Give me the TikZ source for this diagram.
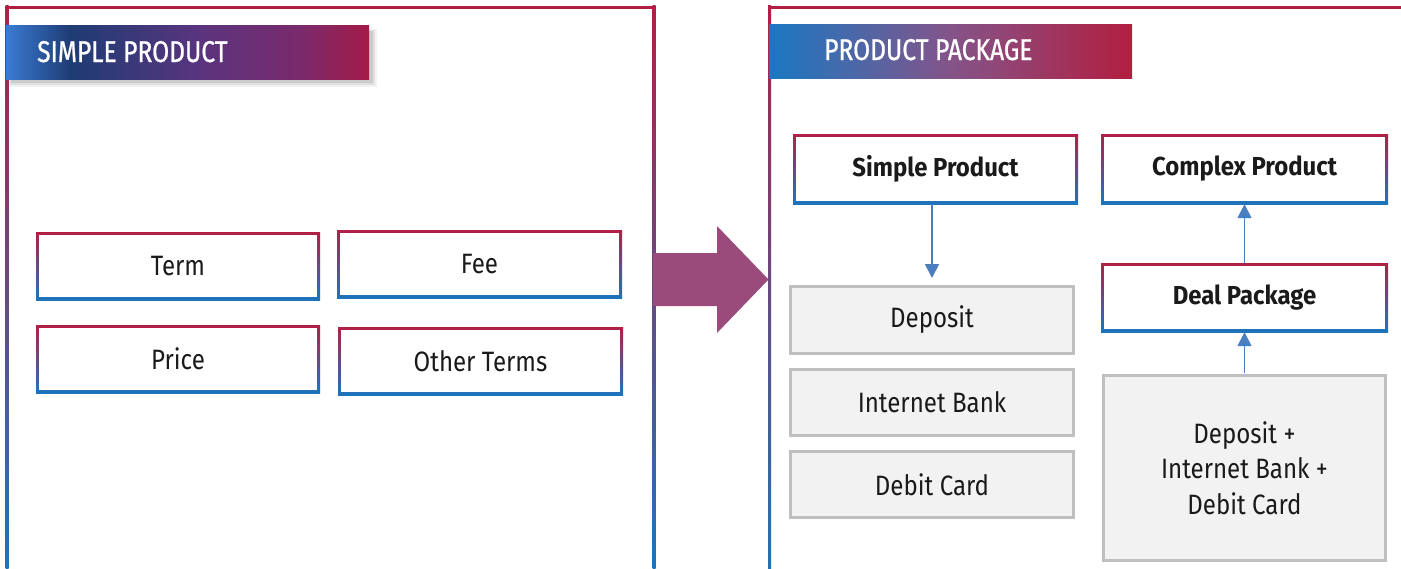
\documentclass[tikz,border=0pt]{standalone}
\usepackage{fontspec}
\setmainfont{Fira Sans}
\newfontfamily\condf[FakeStretch=0.86]{Fira Sans}
\newfontfamily\boldf[FakeStretch=0.92]{Fira Sans}
\newfontfamily\hdrf[FakeStretch=0.82,FakeBold=0.8]{Fira Sans}
\usetikzlibrary{arrows.meta,calc}
\definecolor{gr}{HTML}{B21F45}
\definecolor{gb}{HTML}{1C75BC}
\definecolor{txt}{HTML}{1A1A1A}
\definecolor{grayf}{HTML}{F2F2F2}
\definecolor{grayd}{HTML}{BFBFBF}
\definecolor{bigarrow}{HTML}{9A4A7B}
\definecolor{conncol}{HTML}{4A7EBF}
\definecolor{hA}{HTML}{3A7BD3}
\definecolor{hB}{HTML}{1E3C74}
\definecolor{hC}{HTML}{5A347E}
\definecolor{hD}{HTML}{7A2A6C}
\definecolor{hE}{HTML}{A41B48}
\definecolor{pA}{HTML}{1A78C2}
\definecolor{pB}{HTML}{845489}
\definecolor{pC}{HTML}{B21E40}
\tikzset{
  gbox/.style={inner sep=0pt, text=txt, font=\condf\fontsize{28}{34}\selectfont,
    path picture={
      \shade[top color=gr, bottom color=gb] (path picture bounding box.south west) rectangle (path picture bounding box.north east);
      \fill[white] ([shift={(3pt,-3pt)}]path picture bounding box.north west) rectangle ([shift={(-3pt,3pt)}]path picture bounding box.south east);
    }},
  boldbox/.style={gbox, font=\boldf\bfseries\fontsize{26}{32}\selectfont},
  graybox/.style={inner sep=0pt, fill=grayf, draw=grayd, line width=3pt, text=txt,
    font=\condf\fontsize{28}{35.5}\selectfont, align=center},
  conn/.style={draw=conncol, line width=1.6pt, -{Triangle[length=14pt,width=14pt]}},
  hdrtext/.style={inner sep=0pt, anchor=base west, text=white, font=\hdrf\fontsize{30}{36}\selectfont},
  framered/.style={fill=gr},
  frameside/.style={top color=gr, bottom color=gb},
}
\begin{document}
\begin{tikzpicture}[x=1pt,y=-1pt]
\useasboundingbox (0,0) rectangle (1401,568);
\fill[white] (0,0) rectangle (1401,568);

% frames
\fill[framered] (5.5,5.5) rectangle (655.5,8.5);
\shade[frameside] (5.5,5.5) rectangle (8.5,575);
\shade[frameside] (652.5,5.5) rectangle (655.5,575);
\fill[framered] (768,5.5) rectangle (1405,8.5);
\shade[frameside] (768,5.5) rectangle (771,575);

% header 1 with shadow
\fill[black,opacity=0.05] (9,29) rectangle (377,87);
\fill[black,opacity=0.07] (10,30) rectangle (375,85);
\fill[black,opacity=0.09] (11,31) rectangle (373,83);
\shade[left color=hA, right color=hB] (6,25) rectangle (70.5,79);
\shade[left color=hB, right color=hC] (70,25) rectangle (200.5,79);
\shade[left color=hC, right color=hD] (200,25) rectangle (300.5,79);
\shade[left color=hD, right color=hE] (300,25) rectangle (369,79);
\node[hdrtext] (h1) at (37,62) {SIMPLE PRODUCT};

% header 2
\shade[left color=pA, right color=pB] (769,24) rectangle (950.5,78);
\shade[left color=pB, right color=pC] (950,24) rectangle (1132,78);
\node[hdrtext] (h2) at (824,60) {PRODUCT PACKAGE};

% big arrow
\fill[bigarrow] (653,253) -- (717,253) -- (717,226) -- (768.5,279.5) -- (717,333) -- (717,306) -- (653,306) -- cycle;

% left boxes
\node[gbox, minimum width=284pt, minimum height=68pt] (term) at (178,266) {Term};
\node[gbox, minimum width=285pt, minimum height=68pt] (fee) at (479.5,264) {Fee};
\node[gbox, minimum width=284pt, minimum height=68pt] (price) at (178,359) {Price};
\node[gbox, minimum width=285pt, minimum height=68pt] (other) at (480.5,361) {Other Terms};

% right side
\node[boldbox, minimum width=285pt, minimum height=70pt] (sp) at (935.5,169) {Simple Product};
\node[boldbox, minimum width=287pt, minimum height=70pt] (cp) at (1244.5,169) {Complex Product};
\node[boldbox, minimum width=287pt, minimum height=69pt] (deal) at (1244.5,297.5) {Deal Package};

\node[graybox, minimum width=283pt, minimum height=67pt] (dep) at (932,320) {Deposit};
\node[graybox, minimum width=283pt, minimum height=66pt] (ib) at (932,402.5) {Internet Bank};
\node[graybox, minimum width=283pt, minimum height=66pt] (dc) at (932,484.5) {Debit Card};
\node[graybox, minimum width=282pt, minimum height=185pt] (combo) at (1244.5,468) {Deposit +\\Internet Bank +\\Debit Card};

% connectors
\draw[conn, shorten >=7pt] (dep.north |- sp.south) -- (dep.north);
\draw[conn] (deal.north) -- (cp.south);
\draw[conn] ([yshift=1.5pt]combo.north) -- (deal.south);
\end{tikzpicture}
\end{document}
